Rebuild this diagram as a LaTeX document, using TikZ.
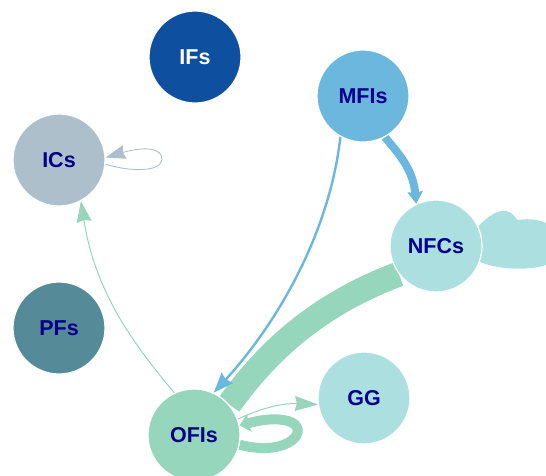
\documentclass[tikz,border=0pt]{standalone}
\usepackage{fontspec}
\setmainfont{Liberation Sans}
\usetikzlibrary{arrows.meta,backgrounds}
\definecolor{cIF}{HTML}{0F4FA0}
\definecolor{cMF}{HTML}{6BB7DE}
\definecolor{cIC}{HTML}{ADBFCA}
\definecolor{cNF}{HTML}{ACE0E0}
\definecolor{cPF}{HTML}{558A98}
\definecolor{cOF}{HTML}{95D6BC}
\definecolor{cTxt}{HTML}{00008B}
\begin{document}
\begin{tikzpicture}[x=1pt,y=-1pt,
  actor/.style={circle,minimum size=92pt,inner sep=0pt,draw=white,line width=1.2pt,
    font=\fontsize{21.5}{24}\selectfont\bfseries,text=cTxt},
  ]
\useasboundingbox (0,0) rectangle (546,475);
% nodes
\node[actor,fill=cIF,text=white] (IFs) at (195,57) {IFs};
\node[actor,fill=cMF] (MFIs) at (363,96) {MFIs};
\node[actor,fill=cIC] (ICs) at (59,160) {ICs};
\node[actor,fill=cNF] (NFCs) at (436,246) {NFCs};
\node[actor,fill=cPF] (PFs) at (59,328) {PFs};
\node[actor,fill=cNF] (GG) at (364,398) {GG};
\node[actor,fill=cOF] (OFIs) at (194,435) {OFIs};
\begin{scope}[on background layer]
% NFCs self-loop (very thick, drawn as a filled blob)
\fill[cNF] (NFCs.25) .. controls (488,216) and (497,210) .. (506,211)
  .. controls (513,212) and (515,218) .. (518,220)
  .. controls (530,218) and (540,220) .. (546,223) -- (546,265)
  .. controls (535,269) and (505,272) .. (NFCs.-20) -- cycle;
% NFCs -> OFIs (thick band)
\draw[cOF,line width=25pt] (NFCs.-143) .. controls (330,300) and (275,340) .. (OFIs.41);
% MFIs -> OFIs
\draw[cMF,line width=2.4pt,-{Stealth[length=20pt,width=15pt,inset=2pt]}]
  (MFIs.-119) .. controls (330,230) and (280,320) .. (OFIs.65);
% MFIs -> NFCs
\draw[cMF,line width=8pt,-{Stealth[length=12pt,width=15pt,inset=1pt]}]
  (MFIs.-62) .. controls (400,155) and (413,170) .. (NFCs.115);
% OFIs -> ICs
\draw[cOF,line width=1pt,-{Stealth[length=21pt,width=15pt,inset=2pt]}]
  (OFIs.115) .. controls (130,340) and (95,290) .. (ICs.-62);
% ICs self-loop
\draw[cIC,line width=0.9pt,-{Stealth[length=20pt,width=14pt,inset=2pt]}]
  (ICs.-5) .. controls (130,172) and (160,172) .. (162,160)
  .. controls (163,148) and (145,146) .. (ICs.3);
% OFIs -> GG
\draw[cOF,line width=1pt,-{Stealth[length=23pt,width=15pt,inset=2pt]}]
  (OFIs.20) .. controls (262,408) and (282,403) .. (GG.188);
% OFIs self-loop
\draw[cOF,line width=10pt,-{Stealth[length=10pt,width=18pt,inset=1pt]}]
  (OFIs.-12) .. controls (290,458) and (312,428) .. (288,421)
  .. controls (276,418) and (265,419) .. (OFIs.12);
\end{scope}
\end{tikzpicture}
\end{document}
